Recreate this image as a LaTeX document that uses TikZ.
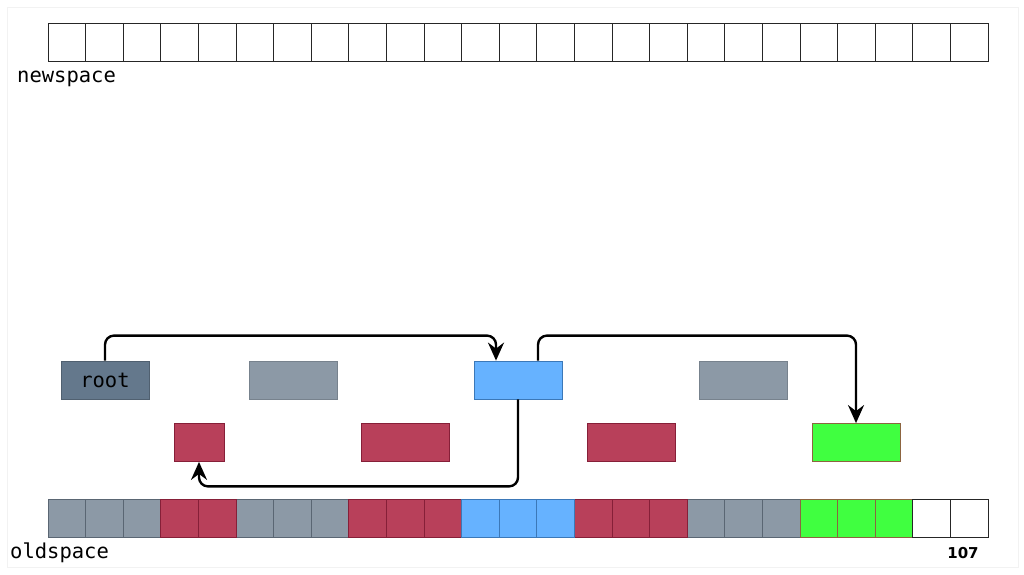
\documentclass[tikz,border=0pt]{standalone}
\usepackage{fontspec}
\setmonofont{DejaVu Sans Mono}
\newfontfamily\numfont{DejaVu Sans}
\usetikzlibrary{arrows.meta}
\definecolor{cgray}{HTML}{8C99A6}
\definecolor{cgrayd}{HTML}{5A6673}
\definecolor{croot}{HTML}{64788C}
\definecolor{cred}{HTML}{B8405A}
\definecolor{credd}{HTML}{861F38}
\definecolor{cblue}{HTML}{66B2FF}
\definecolor{cblued}{HTML}{3B78B8}
\definecolor{cgreen}{HTML}{40FF40}
\definecolor{cgreend}{HTML}{8C6440}
\begin{document}
\begin{tikzpicture}[x=1pt,y=-1pt,
  cell/.style={draw=black!85,line width=1pt},
  obj/.style={minimum width=88pt,minimum height=38pt,inner sep=0pt,line width=0.8pt},
  lbl/.style={font=\fontsize{20.5}{22}\selectfont\ttfamily,inner sep=0pt},
  conn/.style={line width=2.4pt,rounded corners=9pt,-{Stealth[length=18pt,width=16pt,inset=6pt]}}
]
\useasboundingbox (0,0) rectangle (1024,574);
\draw[black!5,line width=0.8pt] (7,7) rectangle (1018,567);
% newspace
\foreach \i in {0,...,24}{
  \draw[cell] ({48+\i*37.6},23) rectangle ({48+(\i+1)*37.6},61);
}
\node[lbl,anchor=west] (ns) at (17,79) {newspace};
% oldspace
\def\oldcell#1#2#3{\draw[fill=#2,draw=#3,line width=1pt] ({48+#1*37.6},499) rectangle ({48+(#1+1)*37.6},537);}
\foreach \i in {0,1,2,5,6,7,17,18,19}{\oldcell{\i}{cgray}{cgrayd}}
\foreach \i in {3,4,8,9,10,14,15,16}{\oldcell{\i}{cred}{credd}}
\foreach \i in {11,12,13}{\oldcell{\i}{cblue}{cblued}}
\foreach \i in {20,21,22}{\oldcell{\i}{cgreen}{cgreend}}
\foreach \i in {23,24}{\oldcell{\i}{white}{black!85}}
\node[lbl,anchor=west] (os) at (10,553) {oldspace};
\node[font=\fontsize{15}{15}\selectfont\numfont\bfseries,inner sep=0pt] (pg) at (963,553) {107};
% objects
\node[obj,fill=croot,draw=croot!80!black,lbl] (root) at (105,380) {\raisebox{-2pt}{root}};
\node[obj,fill=cgray,draw=cgray!85!black] (g1) at (293,380) {};
\node[obj,fill=cblue,draw=cblued] (b1) at (518,380) {};
\node[obj,fill=cgray,draw=cgray!85!black] (g2) at (743,380) {};
\node[obj,fill=cred,draw=credd,minimum width=50pt] (r1) at (199,442.5) {};
\node[obj,fill=cred,draw=credd] (r2) at (405,442.5) {};
\node[obj,fill=cred,draw=credd] (r3) at (631,442.5) {};
\node[obj,fill=cgreen,draw=cgreend] (gr) at (856,442.5) {};
% connectors
\draw[conn] (root.north) -- ++(0,-25) -| ([xshift=-22pt]b1.north);
\draw[conn] (b1.south) -- ++(0,87) -| (r1.south);
\draw[conn] ([xshift=20pt]b1.north) -- ++(0,-25) -| (gr.north);
\end{tikzpicture}
\end{document}
